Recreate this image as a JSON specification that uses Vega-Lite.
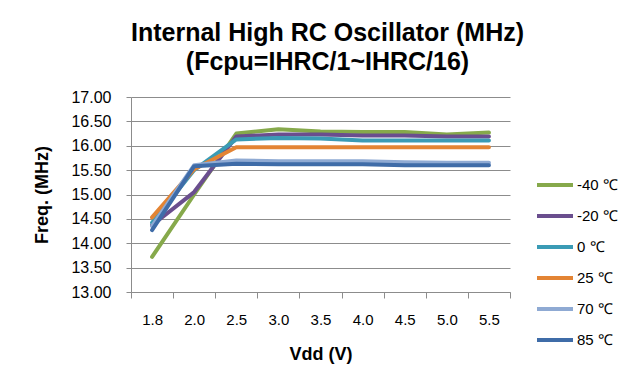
{
  "$schema": "https://vega.github.io/schema/vega-lite/v6.json",
  "autosize": {"type": "none"},
  "padding": {"left": 131, "top": 97, "right": 134, "bottom": 96},
  "width": 379,
  "height": 195,
  "background": "white",
  "title": {
    "text": ["Internal High RC Oscillator (MHz)", "(Fcpu=IHRC/1~IHRC/16)"],
    "font": "Liberation Sans",
    "fontSize": 25,
    "fontWeight": "bold",
    "color": "#000000",
    "anchor": "middle",
    "lineHeight": 29,
    "offset": 14,
    "dx": 7
  },
  "data": {
    "values": [
      {"vdd": "1.8", "temp": "-40 ℃", "freq": 13.72},
      {"vdd": "2.0", "temp": "-40 ℃", "freq": 15.00},
      {"vdd": "2.5", "temp": "-40 ℃", "freq": 16.25},
      {"vdd": "3.0", "temp": "-40 ℃", "freq": 16.34},
      {"vdd": "3.5", "temp": "-40 ℃", "freq": 16.29},
      {"vdd": "4.0", "temp": "-40 ℃", "freq": 16.28},
      {"vdd": "4.5", "temp": "-40 ℃", "freq": 16.28},
      {"vdd": "5.0", "temp": "-40 ℃", "freq": 16.23},
      {"vdd": "5.5", "temp": "-40 ℃", "freq": 16.27},
      {"vdd": "1.8", "temp": "-20 ℃", "freq": 14.37},
      {"vdd": "2.0", "temp": "-20 ℃", "freq": 15.05},
      {"vdd": "2.5", "temp": "-20 ℃", "freq": 16.19},
      {"vdd": "3.0", "temp": "-20 ℃", "freq": 16.23},
      {"vdd": "3.5", "temp": "-20 ℃", "freq": 16.23},
      {"vdd": "4.0", "temp": "-20 ℃", "freq": 16.21},
      {"vdd": "4.5", "temp": "-20 ℃", "freq": 16.21},
      {"vdd": "5.0", "temp": "-20 ℃", "freq": 16.19},
      {"vdd": "5.5", "temp": "-20 ℃", "freq": 16.19},
      {"vdd": "1.8", "temp": "0 ℃", "freq": 14.42},
      {"vdd": "2.0", "temp": "0 ℃", "freq": 15.50},
      {"vdd": "2.5", "temp": "0 ℃", "freq": 16.13},
      {"vdd": "3.0", "temp": "0 ℃", "freq": 16.16},
      {"vdd": "3.5", "temp": "0 ℃", "freq": 16.15},
      {"vdd": "4.0", "temp": "0 ℃", "freq": 16.11},
      {"vdd": "4.5", "temp": "0 ℃", "freq": 16.11},
      {"vdd": "5.0", "temp": "0 ℃", "freq": 16.11},
      {"vdd": "5.5", "temp": "0 ℃", "freq": 16.11},
      {"vdd": "1.8", "temp": "25 ℃", "freq": 14.53},
      {"vdd": "2.0", "temp": "25 ℃", "freq": 15.52},
      {"vdd": "2.5", "temp": "25 ℃", "freq": 15.97},
      {"vdd": "3.0", "temp": "25 ℃", "freq": 15.97},
      {"vdd": "3.5", "temp": "25 ℃", "freq": 15.97},
      {"vdd": "4.0", "temp": "25 ℃", "freq": 15.97},
      {"vdd": "4.5", "temp": "25 ℃", "freq": 15.97},
      {"vdd": "5.0", "temp": "25 ℃", "freq": 15.97},
      {"vdd": "5.5", "temp": "25 ℃", "freq": 15.97},
      {"vdd": "1.8", "temp": "70 ℃", "freq": 14.35},
      {"vdd": "2.0", "temp": "70 ℃", "freq": 15.60},
      {"vdd": "2.5", "temp": "70 ℃", "freq": 15.70},
      {"vdd": "3.0", "temp": "70 ℃", "freq": 15.68},
      {"vdd": "3.5", "temp": "70 ℃", "freq": 15.68},
      {"vdd": "4.0", "temp": "70 ℃", "freq": 15.68},
      {"vdd": "4.5", "temp": "70 ℃", "freq": 15.66},
      {"vdd": "5.0", "temp": "70 ℃", "freq": 15.65},
      {"vdd": "5.5", "temp": "70 ℃", "freq": 15.65},
      {"vdd": "1.8", "temp": "85 ℃", "freq": 14.27},
      {"vdd": "2.0", "temp": "85 ℃", "freq": 15.58},
      {"vdd": "2.5", "temp": "85 ℃", "freq": 15.63},
      {"vdd": "3.0", "temp": "85 ℃", "freq": 15.62},
      {"vdd": "3.5", "temp": "85 ℃", "freq": 15.62},
      {"vdd": "4.0", "temp": "85 ℃", "freq": 15.62},
      {"vdd": "4.5", "temp": "85 ℃", "freq": 15.60},
      {"vdd": "5.0", "temp": "85 ℃", "freq": 15.60},
      {"vdd": "5.5", "temp": "85 ℃", "freq": 15.60}
    ]
  },
  "mark": {"type": "line", "strokeWidth": 4, "strokeJoin": "round", "strokeCap": "round"},
  "encoding": {
    "x": {
      "field": "vdd",
      "type": "ordinal",
      "bandPosition": 0.5,
      "scale": {"type": "band", "paddingInner": 0, "paddingOuter": 0},
      "sort": null,
      "axis": {
        "title": "Vdd (V)",
        "titleFont": "Liberation Sans",
        "titleFontSize": 18,
        "titleFontWeight": "bold",
        "titleColor": "#000000",
        "titlePadding": 18,
        "labelFont": "Liberation Sans",
        "labelFontSize": 15,
        "labelColor": "#000000",
        "labelAngle": 0,
        "labelPadding": 14,
        "tickBand": "extent",
        "tickSize": 6,
        "tickColor": "#8c8c8c",
        "domainColor": "#8c8c8c",
        "grid": false
      }
    },
    "y": {
      "field": "freq",
      "type": "quantitative",
      "scale": {"domain": [13, 17], "nice": false, "zero": false},
      "axis": {
        "title": "Freq. (MHz)",
        "titleFont": "Liberation Sans",
        "titleFontSize": 18,
        "titleFontWeight": "bold",
        "titleColor": "#000000",
        "titlePadding": 19,
        "labelFont": "Liberation Sans",
        "labelFontSize": 16,
        "labelColor": "#000000",
        "labelPadding": 15,
        "values": [13, 13.5, 14, 14.5, 15, 15.5, 16, 16.5, 17],
        "format": ".2f",
        "tickSize": 5,
        "tickColor": "#8c8c8c",
        "domainColor": "#8c8c8c",
        "grid": true,
        "gridColor": "#8c8c8c"
      }
    },
    "color": {
      "field": "temp",
      "type": "nominal",
      "scale": {
        "domain": ["-40 ℃", "-20 ℃", "0 ℃", "25 ℃", "70 ℃", "85 ℃"],
        "range": ["#86A94B", "#6A4E8E", "#3A9BB5", "#E38434", "#8FAAD3", "#3F6CA8"]
      },
      "legend": {
        "title": null,
        "orient": "none",
        "legendX": 404,
        "legendY": 68,
        "symbolType": "stroke",
        "symbolSize": 1296,
        "symbolStrokeWidth": 4,
        "labelFont": "Liberation Sans",
        "labelFontSize": 15,
        "labelColor": "#000000",
        "labelOffset": 2,
        "rowPadding": 3
      }
    }
  },
  "config": {"view": {"stroke": null}}
}
